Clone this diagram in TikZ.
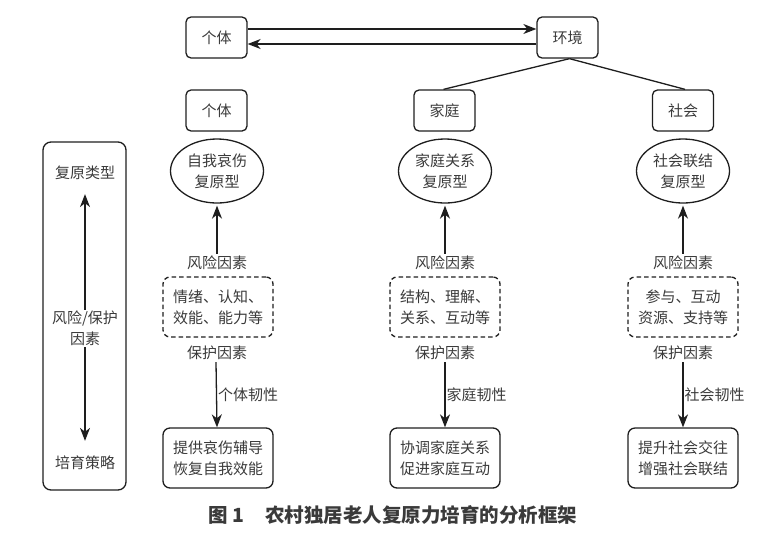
\documentclass[tikz,border=0pt]{standalone}
\usepackage{fontspec}
\setmainfont{Noto Sans CJK SC}
\usetikzlibrary{arrows.meta,shapes.geometric}
\definecolor{txt}{HTML}{3A3A3A}
\definecolor{ln}{HTML}{1E1E1E}
\tikzset{
  base/.style={font=\fontsize{15}{21}\selectfont, text=txt, align=center},
  rbox/.style={base, draw=ln, line width=1.3pt, rounded corners=5pt, minimum width=61pt, minimum height=41pt, inner sep=0pt},
  ell/.style={base, draw=ln, line width=1.3pt, ellipse, minimum width=93pt, minimum height=64pt, inner sep=0pt},
  dbox/.style={base, draw=ln, line width=1.3pt, dashed, dash pattern=on 4.5pt off 3pt, rounded corners=7pt, minimum width=110pt, minimum height=60pt, inner sep=0pt},
  sbox/.style={base, draw=ln, line width=1.3pt, rounded corners=7pt, minimum width=110pt, minimum height=60pt, inner sep=0pt},
  lbl/.style={base, inner sep=2pt},
  arr/.style={draw=ln, line width=1.3pt, -{Stealth[length=13pt,width=10pt,inset=4pt]}},
  plain/.style={draw=ln, line width=1.3pt},
}
\begin{document}
\begin{tikzpicture}[x=1pt,y=-1pt]
\useasboundingbox (0,0) rectangle (783,544);
% top
\node[rbox] (topA) at (216.5,37.5) {个体};
\node[rbox] (topB) at (567.5,37.5) {环境};
\draw[arr] ([yshift=8.5pt]topA.east) -- ([yshift=8.5pt]topB.west);
\draw[arr] ([yshift=-6.5pt]topB.west) -- ([yshift=-6.5pt]topA.east);
% level boxes
\node[rbox] (c1) at (216.5,110.5) {个体};
\node[rbox] (c2) at (444.5,110.5) {家庭};
\node[rbox] (c3) at (683,110.5) {社会};
\draw[plain] ([xshift=2pt]topB.south) -- ([xshift=-1pt]c2.north);
\draw[plain] ([xshift=2pt]topB.south) -- ([xshift=2pt]c3.north);
% ellipses
\node[ell] (e1) at (217,171) {自我哀伤\\复原型};
\node[ell] (e2) at (445,171) {家庭关系\\复原型};
\node[ell] (e3) at (683,171) {社会联结\\复原型};
% risk labels
\node[lbl] (r1) at (217,263) {风险因素};
\node[lbl] (r2) at (445,263) {风险因素};
\node[lbl] (r3) at (683,263) {风险因素};
\draw[arr, shorten >=2pt] (r1.north) -- (e1.south);
\draw[arr, shorten >=2pt] (r2.north) -- (e2.south);
\draw[arr, shorten >=2pt] (r3.north) -- (e3.south);
% dashed boxes
\node[dbox] (d1) at (218,307) {情绪、认知、\\效能、能力等};
\node[dbox] (d2) at (445,307) {结构、理解、\\关系、互动等};
\node[dbox] (d3) at (683,307) {参与、互动\\资源、支持等};
% protect labels
\node[lbl] (p1) at (217,353) {保护因素};
\node[lbl] (p2) at (445,353) {保护因素};
\node[lbl] (p3) at (683,353) {保护因素};
% strategy boxes
\node[sbox] (s1) at (218,458) {提供哀伤辅导\\恢复自我效能};
\node[sbox] (s2) at (445,458) {协调家庭关系\\促进家庭互动};
\node[sbox] (s3) at (683,458) {提升社会交往\\增强社会联结};
\draw[arr] ([xshift=-1pt]p1.south) -- node[lbl, right, inner sep=1pt] {个体韧性} ([xshift=-1pt]s1.north);
\draw[arr] (p2.south) -- node[lbl, right, inner sep=1pt] {家庭韧性} (s2.north);
\draw[arr] (p3.south) -- node[lbl, right, inner sep=1pt] {社会韧性} (s3.north);
% left legend
\node[draw=ln, line width=1.3pt, rounded corners=8pt, minimum width=83pt, minimum height=348pt, inner sep=0pt] (legend) at (84.5,316) {};
\node[lbl] (L1) at (85,173) {复原类型};
\node[lbl, inner sep=1pt] (L2) at (85,328.5) {风险/保护\\因素};
\node[lbl] (L3) at (85,463) {培育策略};
\draw[arr, shorten >=12pt] (L2.north) -- (L1.south);
\draw[arr, shorten >=13pt] (L2.south) -- (L3.north);
% caption
\node[font=\fontsize{19.5}{22}\selectfont\bfseries, text=txt, anchor=west, inner sep=0pt] (cap1) at (208,515) {图 1};
\node[font=\fontsize{19.5}{22}\selectfont\bfseries, text=txt, anchor=west, inner sep=0pt] (cap2) at (265,515) {农村独居老人复原力培育的分析框架};
\end{tikzpicture}
\end{document}
